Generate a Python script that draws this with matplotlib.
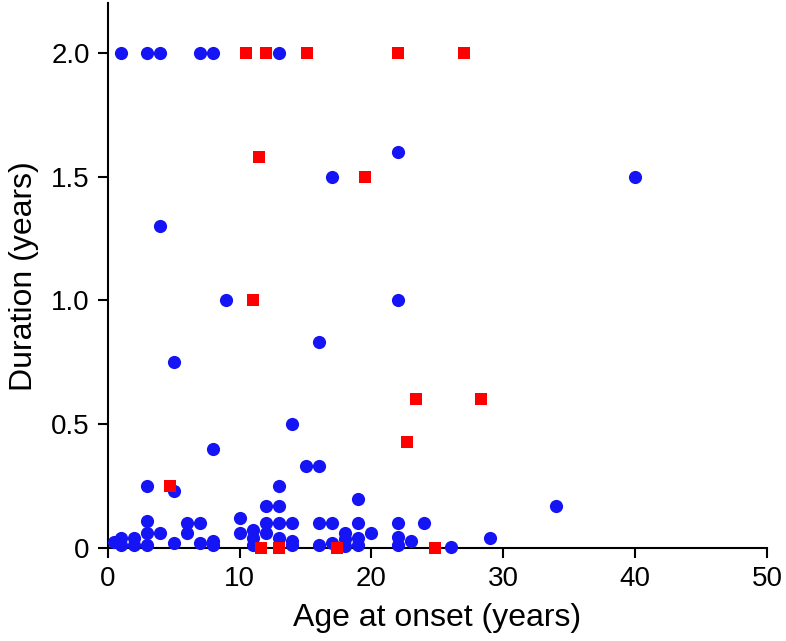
import numpy as np
import matplotlib
matplotlib.use("Agg")
import matplotlib.pyplot as plt

plt.rcParams['font.family'] = ['Liberation Sans', 'DejaVu Sans']

# blue circles: age at onset, duration
blue_age = [1, 3, 4, 7, 8, 13,
            4, 9, 17, 22, 22, 40, 16, 5, 14, 8, 15, 16, 3, 5, 13, 19, 34, 12, 13, 29,
            0.5, 1, 1, 2, 2, 3, 3, 3, 4, 5, 6, 6, 7, 7, 8, 8,
            10, 10, 11, 11, 11, 12, 12, 13, 13, 14, 14, 14, 16, 16, 17, 17,
            18, 18, 18, 19, 19, 19, 20, 22, 22, 22, 23, 24, 26]
blue_dur = [2.0, 2.0, 2.0, 2.0, 2.0, 2.0,
            1.3, 1.0, 1.5, 1.6, 1.0, 1.5, 0.83, 0.75, 0.5, 0.4, 0.33, 0.33, 0.25, 0.23, 0.25, 0.2, 0.17, 0.17, 0.17, 0.04,
            0.025, 0.04, 0.012, 0.04, 0.012, 0.11, 0.06, 0.012, 0.06, 0.02, 0.1, 0.06, 0.1, 0.02, 0.03, 0.012,
            0.12, 0.06, 0.073, 0.04, 0.012, 0.1, 0.06, 0.1, 0.04, 0.1, 0.03, 0.012, 0.1, 0.012, 0.1, 0.02,
            0.06, 0.035, 0.01, 0.1, 0.04, 0.012, 0.06, 0.1, 0.045, 0.012, 0.03, 0.1, 0.005]

# red squares
red_age = [10.5, 12, 15.1, 22, 27, 11.5, 19.5, 11, 23.4, 28.3, 22.7, 4.7, 11.6, 13, 17.4, 24.8]
red_dur = [2.0, 2.0, 2.0, 2.0, 2.0, 1.58, 1.5, 1.0, 0.6, 0.6, 0.43, 0.25, 0, 0, 0, 0]

fig = plt.figure(figsize=(7.86, 6.41), dpi=100)
ax = fig.add_axes([0.137, 0.145, 0.839, 0.85])

ax.scatter(blue_age, blue_dur, s=90, c='#1414f5', marker='o', linewidths=0, clip_on=False, zorder=3)
ax.scatter(red_age, red_dur, s=78, c='#ff0000', marker='s', linewidths=0, clip_on=False, zorder=4)

ax.set_xlim(0, 50)
ax.set_ylim(0, 2.2)
ax.set_xticks([0, 10, 20, 30, 40, 50])
ax.set_yticks([0, 0.5, 1.0, 1.5, 2.0])
ax.set_yticklabels(['0', '0.5', '1.0', '1.5', '2.0'])

for side in ['top', 'right']:
    ax.spines[side].set_visible(False)
for side in ['left', 'bottom']:
    ax.spines[side].set_linewidth(1.5)
ax.tick_params(direction='out', length=7, width=1.5, labelsize=20, pad=6)

ax.set_xlabel('Age at onset (years)', fontsize=23, labelpad=8)
ax.set_ylabel('Duration (years)', fontsize=23, labelpad=9)

fig.savefig('out.png', dpi=100)
